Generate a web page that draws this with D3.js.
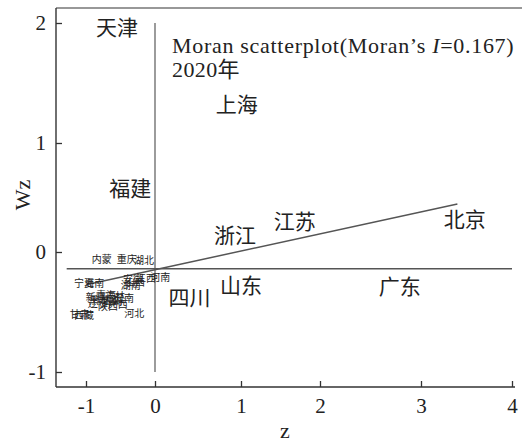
<!DOCTYPE html>
<html>
<head>
  <meta charset="utf-8">
  <script src="https://cdn.jsdelivr.net/npm/d3@7/dist/d3.min.js"></script>
  <style>
    body { margin: 0; background: #fff; }
    .tick text { font-family: "Liberation Serif", serif; font-size: 21px; fill: #222; }
    .tick line { stroke: #333; stroke-width: 1.3; }
    .lab { font-family: "Noto Sans CJK SC", sans-serif; fill: #222; }
  </style>
</head>
<body>
<div id="chart"></div>
<script>
  // tick values (axis is hand-drawn in the source, so breakpoints are uneven)
  var xTicks = [-1, 0, 1, 2, 3, 4];
  var yTicks = [-1, 0, 1, 2];
  var xTickPx = [86, 155, 241, 320, 421, 512];
  var yTickPx = [372, 252, 143, 23];

  // provinces with large labels: name, z, Wz
  var bigNames = ["天津", "上海", "福建", "浙江", "江苏", "北京", "山东", "四川", "广东"];
  var bigZ     = [-0.55, 0.95, -0.36, 0.93, 1.68, 3.48, 1.00, 0.40, 2.79];
  var bigWz    = [1.96, 1.32, 0.58, 0.15, 0.28, 0.30, -0.28, -0.38, -0.29];

  // crowded provinces near the origin, small labels
  var smallNames = ["内蒙", "重庆", "湖北", "宁夏", "海南", "河南", "江西", "安徽", "湖南", "山西",
                    "新疆", "青海", "吉林", "黑龙江", "辽宁", "陕西", "广西", "贵州", "云南", "河北", "甘肃", "西藏"];
  var smallZ  = [-0.77, -0.41, -0.16, -1.03, -0.88, 0.06, -0.13, -0.32, -0.35, -0.29,
                 -0.86, -0.71, -0.58, -0.74, -0.83, -0.68, -0.54, -0.62, -0.45, -0.30, -1.09, -1.03];
  var smallWz = [-0.06, -0.06, -0.07, -0.26, -0.26, -0.21, -0.22, -0.23, -0.28, -0.25,
                 -0.38, -0.36, -0.37, -0.40, -0.43, -0.45, -0.44, -0.41, -0.39, -0.51, -0.52, -0.53];

  // reference lines
  var meanWz = -0.14, meanZRange = [-1.28, 4.0];
  var zeroWzRange = [-1.0, 2.0];
  var fitStart = [-0.90, -0.26], fitEnd = [3.40, 0.44];

  var W = 522, H = 443;
  var svg = d3.select("#chart").append("svg").attr("width", W).attr("height", H);

  var x = d3.scaleLinear().domain(xTicks).range(xTickPx);
  var y = d3.scaleLinear().domain(yTicks).range(yTickPx);

  var frameL = 56, frameT = 8, frameB = 387, frameR = 515;

  // frame lines
  svg.append("line").attr("x1", frameL).attr("x2", frameL).attr("y1", frameT).attr("y2", frameB)
    .attr("stroke", "#333").attr("stroke-width", 1.4);
  svg.append("line").attr("x1", frameL).attr("x2", frameR).attr("y1", frameB).attr("y2", frameB)
    .attr("stroke", "#333").attr("stroke-width", 1.4);
  svg.append("line").attr("x1", frameL).attr("x2", W).attr("y1", frameT).attr("y2", frameT)
    .attr("stroke", "#333").attr("stroke-width", 1.2);

  var plain = function(d) { return String(d); };  // hyphen minus like the source

  var gx = svg.append("g").attr("transform", "translate(0," + frameB + ")")
    .call(d3.axisBottom(x).tickValues(xTicks).tickFormat(plain).tickSize(-6).tickPadding(10));
  gx.select(".domain").remove();
  gx.selectAll(".tick text").attr("dy", "0.75em");

  var gy = svg.append("g").attr("transform", "translate(" + frameL + ",0)")
    .call(d3.axisLeft(y).tickValues(yTicks).tickFormat(plain).tickSize(-6).tickPadding(10));
  gy.select(".domain").remove();

  // axis titles
  svg.append("text").attr("x", 285).attr("y", 438).attr("text-anchor", "middle")
    .style("font-family", "Liberation Serif, serif").style("font-size", "22px").attr("fill", "#222").text("z");
  svg.append("text").attr("transform", "translate(22,195) rotate(-90)").attr("text-anchor", "middle")
    .attr("dy", "0.35em")
    .style("font-family", "Liberation Serif, serif").style("font-size", "22px").attr("fill", "#222").text("Wz");

  // reference lines
  svg.append("line").attr("x1", x(0)).attr("x2", x(0)).attr("y1", y(zeroWzRange[1])).attr("y2", y(zeroWzRange[0]))
    .attr("stroke", "#666").attr("stroke-width", 1.3);
  svg.append("line").attr("x1", x(meanZRange[0])).attr("x2", x(meanZRange[1])).attr("y1", y(meanWz)).attr("y2", y(meanWz))
    .attr("stroke", "#555").attr("stroke-width", 1.5);
  svg.append("line").attr("x1", x(fitStart[0])).attr("x2", x(fitEnd[0])).attr("y1", y(fitStart[1])).attr("y2", y(fitEnd[1]))
    .attr("stroke", "#555").attr("stroke-width", 1.5);

  // title
  var title = svg.append("text").attr("x", 172).attr("y", 53)
    .style("font-family", "Liberation Serif, serif").style("font-size", "22px")
    .style("letter-spacing", "0.7px").attr("fill", "#222");
  title.append("tspan").text("Moran scatterplot(Moran\u2019s ");
  title.append("tspan").style("font-style", "italic").text("I");
  title.append("tspan").text("=0.167)");
  svg.append("text").attr("x", 172).attr("y", 77)
    .style("font-family", "Liberation Serif, 'Noto Sans CJK SC', serif").style("font-size", "22px")
    .style("letter-spacing", "0.4px").attr("fill", "#222")
    .text("2020年");

  // labels
  svg.selectAll(".big").data(bigNames).join("text")
    .attr("class", "lab big")
    .attr("x", function(d, i) { return x(bigZ[i]); })
    .attr("y", function(d, i) { return y(bigWz[i]); })
    .attr("text-anchor", "middle").attr("dy", "0.36em")
    .style("font-size", "21px")
    .text(function(d) { return d; });

  svg.selectAll(".small").data(smallNames).join("text")
    .attr("class", "lab small")
    .attr("x", function(d, i) { return x(smallZ[i]); })
    .attr("y", function(d, i) { return y(smallWz[i]); })
    .attr("text-anchor", "middle").attr("dy", "0.36em")
    .style("font-size", "10px")
    .text(function(d) { return d; });
</script>
</body>
</html>
